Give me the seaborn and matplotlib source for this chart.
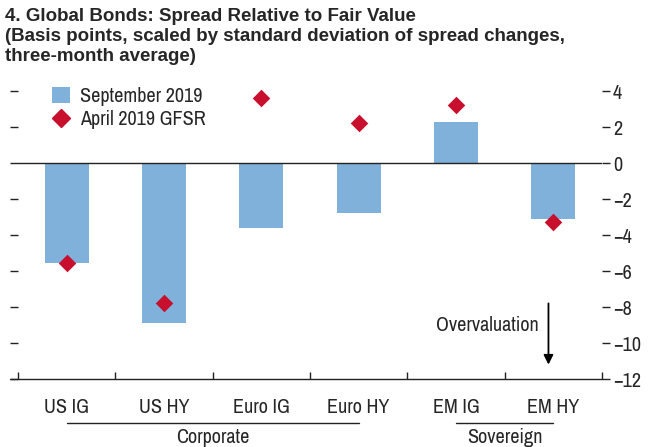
import matplotlib
matplotlib.use("Agg")
import matplotlib.pyplot as plt
import seaborn as sns
import pandas as pd
from matplotlib.lines import Line2D
from matplotlib.patches import Patch

categories = ["US IG", "US HY", "Euro IG", "Euro HY", "EM IG", "EM HY"]
sep_2019 = [-5.55, -8.9, -3.6, -2.8, 2.3, -3.1]
apr_2019 = [-5.55, -7.8, 3.6, 2.2, 3.2, -3.3]
yticks = [4, 2, 0, -2, -4, -6, -8, -10, -12]
groups = [("Corporate", 0, 3), ("Sovereign", 4, 5)]

sns.set_theme(style="white")
plt.rcParams['font.family'] = ['Archivo Narrow', 'DejaVu Sans']
plt.rcParams['axes.unicode_minus'] = True

BLUE = "#7FB1DB"
RED = "#C8102E"
FS = 14.5

df = pd.DataFrame({"cat": categories, "sep": sep_2019, "apr": apr_2019})

fig = plt.figure(figsize=(6.55, 4.47), dpi=100)
ax = fig.add_axes([18/655, 1-379/447, (602-18)/655, (379-73)/447])

sns.barplot(data=df, x="cat", y="sep", color=BLUE, width=0.45, ax=ax,
            saturation=1, edgecolor="none", linewidth=0)
ax.scatter(range(len(categories)), apr_2019, marker="D", s=80, color=RED,
           zorder=5, linewidths=0)

ax.set_xlim(-0.5, 5.5)
ax.set_ylim(-12, 5)
ax.axhline(0, color="#222222", lw=1.0, zorder=1)

for s in ["top", "left", "right", "bottom"]:
    ax.spines[s].set_visible(False)
ax.add_line(Line2D([-0.014, 1.0], [0, 0], transform=ax.transAxes, color="#222222",
                   lw=1.0, clip_on=False))

ax.set_yticks(yticks)
ax.set_yticklabels([str(v).replace("-", "\u2212") for v in yticks])
ax.tick_params(axis="y", left=True, right=True, labelleft=False, labelright=True,
               direction="out", length=6, width=1, color="#222222", labelsize=FS, pad=2)

ax.set_xticks(range(len(categories)))
ax.set_xticklabels(categories)
ax.tick_params(axis="x", which="major", length=0, labelsize=FS, pad=14)
ax.set_xticks([i - 0.5 for i in range(len(categories) + 1)], minor=True)
ax.tick_params(axis="x", which="minor", direction="in", length=5, width=1,
               color="#222222", bottom=True)
ax.set_xlabel("")
ax.set_ylabel("")

tr = ax.get_xaxis_transform()
for name, a, b in groups:
    ax.add_line(Line2D([a, b], [-0.143, -0.143], transform=tr, color="#222222",
                       lw=1.0, clip_on=False))
    ax.text((a + b) / 2, -0.19, name, transform=tr, ha="center", va="center",
            fontsize=FS)

ax.annotate("", xy=(4.95, -11.2), xytext=(4.95, -7.8),
            arrowprops=dict(arrowstyle="-|>", color="black", lw=1.3,
                            mutation_scale=14, shrinkA=0, shrinkB=0))
ax.text(4.85, -9.0, "Overvaluation", ha="right", va="center", fontsize=FS)

handles = [Patch(facecolor=BLUE, edgecolor="none"),
           Line2D([], [], marker="D", color=RED, linestyle="none", markersize=9.5)]
ax.legend(handles, ["September 2019", "April 2019 GFSR"], loc="upper left",
          bbox_to_anchor=(0.058, 0.955), frameon=False, fontsize=FS,
          handlelength=0.9, handleheight=0.9, handletextpad=0.5, labelspacing=0.2,
          borderaxespad=0, borderpad=0)

fig.text(5/655, 1-8/447, "4. Global Bonds: Spread Relative to Fair Value\n"
         "(Basis points, scaled by standard deviation of spread changes,\n"
         "three-month average)", ha="left", va="top", fontsize=13.5,
         fontweight="bold", linespacing=1.22, family=["Liberation Sans", "DejaVu Sans"])

fig.savefig("out.png", dpi=100)
